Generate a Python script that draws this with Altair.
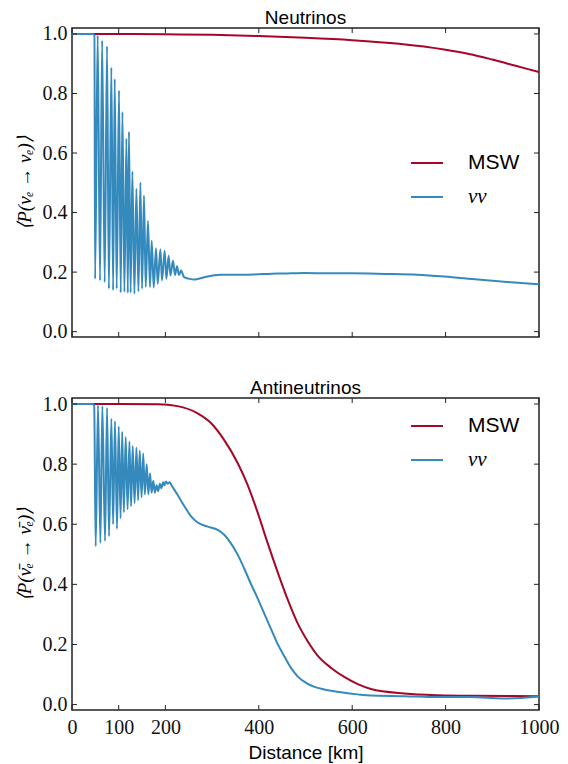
import altair as alt
import pandas as pd

# ---------------- data ----------------
series_names = ["MSW", "νν"]
series_colors = ["#A60628", "#348ABD"]

# Neutrinos panel
nu_msw_km = [0, 100, 200, 300, 400, 500, 600, 700, 800, 850, 900, 950, 1000]
nu_msw_p = [1.0, 1.0, 0.999, 0.997, 0.993, 0.987, 0.979, 0.967, 0.947, 0.933, 0.914, 0.893, 0.872]

nu_nn_km = [0, 45, 48, 49.5, 55, 60, 64.5, 70, 75, 79, 84.3, 88, 91.5, 95.7, 100.7,
            104.3, 108, 112.2, 116.5, 119.5, 122, 125.5, 129.3, 133.6, 137.9, 142.2,
            146.5, 150, 154.2, 157.8, 162.7, 167, 170.7, 175, 179.9, 183.5, 189.3,
            192.7, 198.5, 202, 207, 210.7, 216.3, 220.6, 224.8, 229, 233.4, 240, 250,
            262, 283, 319, 369, 400, 420, 440, 470, 498, 548, 597, 669, 740, 797, 869,
            940, 1000]
nu_nn_p = [1.0, 1.0, 0.995, 0.177, 0.996, 0.172, 0.978, 0.166, 0.959, 0.144, 0.887,
           0.139, 0.849, 0.144, 0.81, 0.131, 0.738, 0.133, 0.649, 0.13, 0.671, 0.131,
           0.538, 0.127, 0.48, 0.135, 0.501, 0.144, 0.457, 0.15, 0.372, 0.15, 0.305,
           0.148, 0.28, 0.161, 0.277, 0.172, 0.272, 0.177, 0.255, 0.189, 0.238, 0.19,
           0.22, 0.19, 0.205, 0.183, 0.178, 0.175, 0.183, 0.191, 0.191, 0.193, 0.194,
           0.195, 0.196, 0.197, 0.196, 0.196, 0.194, 0.191, 0.185, 0.175, 0.166, 0.159]

# Antineutrinos panel
an_msw_km = [0, 100, 184, 226, 269, 298, 326, 355, 376, 398, 419, 441, 462, 483, 505,
             526, 555, 583, 612, 640, 712, 783, 855, 1000]
an_msw_p = [1.0, 1.0, 0.999, 0.993, 0.969, 0.936, 0.88, 0.803, 0.731, 0.637, 0.537,
            0.438, 0.349, 0.271, 0.21, 0.163, 0.122, 0.092, 0.068, 0.052, 0.037, 0.031,
            0.029, 0.028]

an_nn_km = [0, 45, 47.5, 50.7, 55.7, 60.8, 65, 70.7, 75, 79.3, 84.3, 88, 92, 96.4, 100,
            104, 107.5, 111, 115, 119, 123, 126.5, 130, 134, 138, 141.5, 145, 149,
            152.5, 156, 160, 163.5, 167, 170.5, 174, 177.5, 181, 184.5, 188, 191.5, 195,
            198, 201, 205, 209, 213, 226, 241, 255, 269, 291, 312, 326, 340, 355, 369,
            383, 398, 412, 426, 440, 455, 469, 483, 505, 540, 576, 612, 640, 712, 783,
            850, 926, 1000]
an_nn_p = [1.0, 1.0, 0.995, 0.527, 0.996, 0.538, 0.993, 0.544, 0.987, 0.56, 0.951, 0.60,
           0.943, 0.585, 0.925, 0.62, 0.908, 0.64, 0.89, 0.65, 0.875, 0.66, 0.86, 0.67,
           0.855, 0.68, 0.845, 0.69, 0.835, 0.70, 0.80, 0.70, 0.77, 0.705, 0.745, 0.705,
           0.73, 0.71, 0.735, 0.72, 0.74, 0.73, 0.742, 0.735, 0.74, 0.73, 0.698, 0.659,
           0.626, 0.606, 0.592, 0.581, 0.565, 0.537, 0.498, 0.452, 0.402, 0.352, 0.302,
           0.252, 0.203, 0.16, 0.122, 0.094, 0.069, 0.05, 0.041, 0.034, 0.030, 0.028,
           0.025, 0.025, 0.02, 0.027]

x_ticks = [0, 100, 200, 400, 600, 800, 1000]
y_ticks = [0.0, 0.2, 0.4, 0.6, 0.8, 1.0]

# ---------------- build ----------------
W = 467
TXT = "#111111"
SERIF = "Liberation Serif"
SANS = "Liberation Sans"


def frame(msw_km, msw_p, nn_km, nn_p):
    a = pd.DataFrame({"km": msw_km, "P": msw_p, "series": series_names[0]})
    b = pd.DataFrame({"km": nn_km, "P": nn_p, "series": series_names[1]})
    return pd.concat([a, b], ignore_index=True)


xs = alt.Scale(domain=[0, 1000], nice=False, zero=False)
ys = alt.Scale(domain=[-0.018, 1.02], nice=False, zero=False)


def panel(df, title, ytitle, bottom, legend_y, H):
    if bottom:
        xaxis = alt.Axis(values=x_ticks, format="d", title="Distance [km]",
                         labelFont=SERIF, labelFontSize=20, labelColor=TXT,
                         labelPadding=7, labelFlush=False, tickSize=0, domain=False,
                         grid=False, titleFont=SANS, titleFontSize=19,
                         titleFontWeight="normal", titleColor="black", titlePadding=6)
    else:
        xaxis = None
    yaxis = alt.Axis(values=y_ticks, format=".1f", title=ytitle,
                     labelFont=SERIF, labelFontSize=20, labelColor=TXT,
                     labelPadding=5, tickSize=0, domain=False, grid=False,
                     titleFont=SERIF, titleFontStyle="italic", titleFontWeight="normal",
                     titleFontSize=19, titleColor="black", titlePadding=8)
    legend = alt.Legend(
        title=None, orient="none", legendX=338, legendY=legend_y, padding=0,
        symbolType="stroke", symbolSize=1024, symbolStrokeWidth=2,
        labelFontSize=21, labelColor="black", labelOffset=24, rowPadding=7,
        labelFont=alt.ExprRef("datum.label == 'MSW' ? '%s' : '%s'" % (SANS, SERIF)),
        labelFontStyle=alt.ExprRef("datum.label == 'MSW' ? 'normal' : 'italic'"),
    )
    X = alt.X("km:Q", scale=xs, axis=xaxis)
    Y = alt.Y("P:Q", scale=ys, axis=yaxis)
    lines = alt.Chart(df).mark_line(strokeWidth=2, interpolate="monotone").encode(
        x=X, y=Y,
        color=alt.Color("series:N", sort=series_names,
                        scale=alt.Scale(domain=series_names, range=series_colors),
                        legend=legend),
    )
    xt = pd.DataFrame({"km": x_ticks})
    yt = pd.DataFrame({"P": y_ticks})
    tick = dict(color="#222222", strokeWidth=1)
    xb = alt.Chart(xt).mark_rule(**tick).encode(x=X, y=alt.value(H), y2=alt.value(H - 5))
    xtop = alt.Chart(xt).mark_rule(**tick).encode(x=X, y=alt.value(0), y2=alt.value(5))
    yl = alt.Chart(yt).mark_rule(**tick).encode(y=Y, x=alt.value(0), x2=alt.value(5))
    yr = alt.Chart(yt).mark_rule(**tick).encode(y=Y, x=alt.value(W), x2=alt.value(W - 5))
    return alt.layer(lines, xb, xtop, yl, yr).properties(
        width=W, height=H,
        title=alt.TitleParams(title, font=SANS, fontSize=19, fontWeight="normal",
                              color="black", anchor="middle", offset=-4),
    )


top = panel(frame(nu_msw_km, nu_msw_p, nu_nn_km, nu_nn_p), "Neutrinos",
            "⟨P(νₑ → νₑ)⟩", False, 118, 309)
bot = panel(frame(an_msw_km, an_msw_p, an_nn_km, an_nn_p), "Antineutrinos",
            "⟨P(ν̄ₑ → ν̄ₑ)⟩", True, 11, 312)

chart = alt.vconcat(top, bot, spacing=35).resolve_scale(color="independent").resolve_legend(
    color="independent"
).properties(
    padding={"left": 6, "top": 0, "right": 0, "bottom": 0}
).configure_view(stroke="#222222", strokeWidth=1.5)

chart.save("out.html", embed_options={"renderer": "svg", "actions": False})
